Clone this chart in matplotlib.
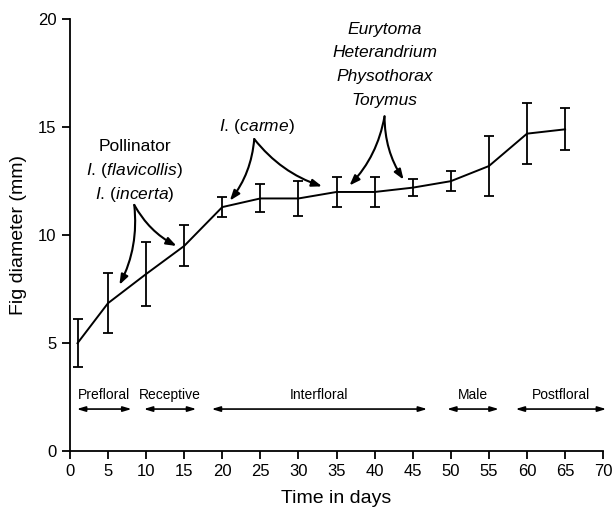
import matplotlib.pyplot as plt

plt.rcParams['font.family'] = ['Liberation Sans', 'DejaVu Sans']
plt.rcParams['mathtext.fontset'] = 'custom'
plt.rcParams['mathtext.rm'] = 'Liberation Sans'
plt.rcParams['mathtext.it'] = 'Liberation Sans:italic'

# 数据：时间（天）、直径均值与误差
days = [1, 5, 10, 15, 20, 25, 30, 35, 40, 45, 50, 55, 60, 65]
diam = [5.0, 6.85, 8.2, 9.5, 11.3, 11.7, 11.7, 12.0, 12.0, 12.2, 12.5, 13.2, 14.7, 14.9]
err = [1.1, 1.4, 1.5, 0.95, 0.45, 0.65, 0.8, 0.7, 0.7, 0.4, 0.45, 1.4, 1.4, 0.97]

# 各阶段（名称、起点、终点）
phases = ['Prefloral', 'Receptive', 'Interfloral', 'Male', 'Postfloral']
phase_start = [0.9, 9.7, 18.6, 49.5, 58.5]
phase_end = [8.1, 16.6, 46.9, 56.3, 70.4]

fig = plt.figure(figsize=(6.13, 5.18), dpi=100)
ax = fig.add_axes([0.114, 0.129, 0.870, 0.834])

ax.errorbar(days, diam, yerr=err, color='black', lw=1.4, elinewidth=1.3,
            capsize=3.6, capthick=1.3)

# 阶段箭头
for name, s, e in zip(phases, phase_start, phase_end):
    ax.annotate('', xy=(e, 1.95), xytext=(s, 1.95), annotation_clip=False,
                arrowprops=dict(arrowstyle='<|-|>,head_length=0.5,head_width=0.15',
                                color='black', lw=1.2, shrinkA=0, shrinkB=0))
    ax.text((s + e) / 2, 2.6, name, ha='center', va='center', fontsize=10)


def curved(apex, left, right, rad=0.15):
    for tgt, r in ((left, -rad), (right, rad)):
        ax.annotate('', xy=tgt, xytext=apex,
                    arrowprops=dict(arrowstyle='-|>,head_length=0.6,head_width=0.22',
                                    color='black', lw=1.5, shrinkA=0, shrinkB=0,
                                    connectionstyle='arc3,rad=%s' % r))


# 传粉者
ax.text(8.5, 14.1, 'Pollinator', ha='center', va='center', fontsize=12.5)
ax.text(8.5, 13.0, r'$\mathit{I.}\,(\mathit{flavicollis})$', ha='center', va='center',
        fontsize=12.5)
ax.text(8.5, 11.9, r'$\mathit{I.}\,(\mathit{incerta})$', ha='center', va='center',
        fontsize=12.5)
curved((8.45, 11.4), (6.5, 7.7), (14.0, 9.5))

# carme
ax.text(24.5, 15.05, r'$\mathit{I.}\,(\mathit{carme})$', ha='center', va='center',
        fontsize=12.5)
curved((24.2, 14.45), (21.0, 11.6), (33.1, 12.26))

# 非传粉小蜂
for name, yy in zip(['Eurytoma', 'Heterandrium', 'Physothorax', 'Torymus'],
                    [19.5, 18.45, 17.35, 16.25]):
    ax.text(41.3, yy, name, ha='center', va='center', fontsize=12.5, style='italic')
curved((41.3, 15.5), (36.7, 12.3), (43.8, 12.57))

ax.set_xlim(0, 70)
ax.set_ylim(0, 20)
ax.set_xticks(range(0, 71, 5))
ax.set_yticks(range(0, 21, 5))
ax.spines['top'].set_visible(False)
ax.spines['right'].set_visible(False)
ax.spines['left'].set_linewidth(1.3)
ax.spines['bottom'].set_linewidth(1.3)
ax.tick_params(length=6, width=1.3, labelsize=12)
ax.set_xlabel('Time in days', fontsize=14, labelpad=8)
ax.set_ylabel('Fig diameter (mm)', fontsize=14, labelpad=8)

fig.savefig('out.png', dpi=100)
